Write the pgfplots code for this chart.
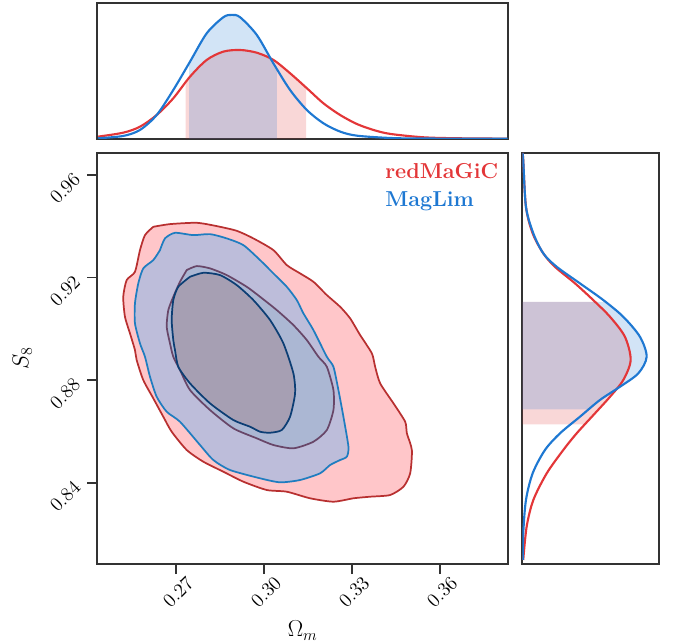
\documentclass[border=0pt]{standalone}
\usepackage{fix-cm}
\usepackage{pgfplots}
\pgfplotsset{compat=1.18}
\definecolor{redL}{RGB}{227,54,56}
\definecolor{blueL}{RGB}{30,120,210}
\definecolor{redE}{RGB}{184,48,48}
\definecolor{blueE}{RGB}{31,125,192}
\definecolor{purE}{RGB}{104,70,104}
\definecolor{navyE}{RGB}{12,62,116}
\definecolor{pinkF}{RGB}{255,198,201}
\definecolor{lavF}{RGB}{189,189,218}
\definecolor{bgF}{RGB}{171,183,211}
\definecolor{mauF}{RGB}{166,159,179}
\definecolor{framec}{RGB}{51,51,51}
\pgfplotsset{
  frame/.style={scale only axis, anchor=south west,
    axis line style={draw=framec, line width=1.3pt}},
}
\begin{document}
\begin{tikzpicture}
\useasboundingbox (0,0) rectangle (516pt,481.5pt);
% ---------------- main 2D panel ----------------
\begin{axis}[frame, at={(73pt,58.5pt)}, width=308pt, height=308.25pt,
  xmin=0.2432, xmax=0.3831, ymin=0.8083, ymax=0.9685,
  xtick={0.27,0.30,0.33,0.36}, xticklabels={0.27,0.30,0.33,0.36},
  ytick={0.84,0.88,0.92,0.96}, yticklabels={0.84,0.88,0.92,0.96},
  tick align=outside, tick pos=left, major tick length=7.5pt,
  every tick/.style={draw=framec, line width=1.3pt},
  tick label style={font=\fontsize{14.6}{17}\selectfont},
  xticklabel style={xshift=1.5pt, rotate=45, anchor=center}, xticklabel shift=13.5pt,
  yticklabel style={yshift=-10.2pt, rotate=45, anchor=center}, yticklabel shift=16.7pt,
  xlabel={$\Omega_m$}, ylabel={$S_8$},
  label style={font=\fontsize{17.28}{20}\selectfont},
  xlabel style={at={(axis description cs:0.5,-0.1776)}, anchor=base},
  ylabel style={at={(axis description cs:-0.168,0.5)}, anchor=base},
]
% redMaGiC 2 sigma
\addplot[fill=pinkF, draw=redE, line width=1.3pt, line join=round, smooth, tension=0.4] coordinates {
(0.26226,0.93973) (0.26795,0.94078) (0.27706,0.94129) (0.28388,0.94000) (0.29069,0.93817)
(0.29635,0.93521) (0.30317,0.93065) (0.30774,0.92481) (0.31227,0.92157) (0.31681,0.91830)
(0.32138,0.91312) (0.32591,0.90856) (0.32932,0.90404) (0.33273,0.89753) (0.33672,0.89040)
(0.33784,0.88518) (0.33955,0.87871) (0.34408,0.87092) (0.34807,0.86375) (0.34865,0.85923)
(0.35035,0.85273) (0.34977,0.84365) (0.34749,0.83843) (0.34295,0.83519) (0.33614,0.83453)
(0.33044,0.83391) (0.32363,0.83258) (0.31568,0.83391) (0.30774,0.83648) (0.30092,0.83714)
(0.29294,0.84038) (0.28613,0.84427) (0.27931,0.84817) (0.27365,0.85273) (0.26853,0.85986)
(0.26567,0.86570) (0.26226,0.87287) (0.25885,0.88000) (0.25660,0.88779) (0.25602,0.89169)
(0.25432,0.89819) (0.25261,0.90466) (0.25203,0.91245) (0.25319,0.91896) (0.25602,0.92220)
(0.25773,0.93065) (0.25943,0.93649) (0.26226,0.93973)} -- cycle;
% MagLim 2 sigma
\addplot[fill=lavF, draw=blueE, line width=1.3pt, line join=round, smooth, tension=0.4] coordinates {
(0.26455,0.93065) (0.26625,0.93521) (0.26966,0.93739) (0.27590,0.93649) (0.28159,0.93688)
(0.28728,0.93521) (0.29294,0.93260) (0.29864,0.92675) (0.30317,0.92157) (0.30774,0.91635)
(0.31115,0.91117) (0.31340,0.90599) (0.31681,0.89948) (0.32138,0.88908) (0.32363,0.88518)
(0.32533,0.87610) (0.32703,0.86570) (0.32874,0.85401) (0.32819,0.85012) (0.32591,0.84883)
(0.32250,0.84688) (0.31909,0.84365) (0.31227,0.84104) (0.30545,0.84014) (0.29864,0.84170)
(0.28841,0.84493) (0.28272,0.84883) (0.27818,0.85468) (0.27136,0.86375) (0.26683,0.86765)
(0.26342,0.87349) (0.26114,0.88129) (0.25943,0.88908) (0.25773,0.89430) (0.25602,0.90209)
(0.25602,0.90988) (0.25715,0.91768) (0.25885,0.92352) (0.26226,0.92675) (0.26455,0.93065)} -- cycle;
% redMaGiC 1 sigma
\addplot[fill=bgF, draw=purE, line width=1.3pt, line join=round, smooth, tension=0.4] coordinates {
(0.27365,0.92286) (0.27706,0.92442) (0.28159,0.92352) (0.28728,0.92091) (0.29410,0.91635)
(0.29864,0.91245) (0.30433,0.90727) (0.30999,0.90143) (0.31456,0.89558) (0.31851,0.88908)
(0.32138,0.88518) (0.32363,0.87610) (0.32363,0.86831) (0.32138,0.86052) (0.31681,0.85596)
(0.30999,0.85339) (0.30317,0.85468) (0.29751,0.85729) (0.28953,0.86118) (0.28159,0.86831)
(0.27477,0.87610) (0.27136,0.88390) (0.26908,0.88908) (0.26795,0.89430) (0.26683,0.90077)
(0.26738,0.90727) (0.26908,0.91245) (0.27136,0.91830) (0.27365,0.92286)} -- cycle;
% MagLim 1 sigma
\addplot[fill=mauF, draw=navyE, line width=1.3pt, line join=round, smooth, tension=0.4] coordinates {
(0.27477,0.92025) (0.27931,0.92181) (0.28500,0.92091) (0.29069,0.91701) (0.29635,0.91117)
(0.30205,0.90338) (0.30658,0.89430) (0.30999,0.88261) (0.31057,0.87482) (0.30886,0.86570)
(0.30603,0.86052) (0.30205,0.85947) (0.29864,0.85986) (0.29523,0.86181) (0.28953,0.86442)
(0.28159,0.87092) (0.27477,0.87871) (0.27078,0.88518) (0.26966,0.89169) (0.26908,0.89558)
(0.26853,0.90338) (0.26908,0.91117) (0.27078,0.91635) (0.27477,0.92025)} -- cycle;
\node[anchor=base west, inner sep=0pt, text=redL, font=\fontsize{16.2}{19}\selectfont\bfseries]
  at (axis description cs:0.7005,0.937) {redMaGiC};
\node[anchor=base west, inner sep=0pt, text=blueL, font=\fontsize{16.2}{19}\selectfont\bfseries]
  at (axis description cs:0.7005,0.869) {MagLim};
\end{axis}
% ---------------- top marginal (Omega_m) ----------------
\begin{axis}[frame, at={(73pt,377.5pt)}, width=308pt, height=102pt,
  xmin=0.2432, xmax=0.3831, ymin=0, ymax=1, xtick=\empty, ytick=\empty]
% 68% bands
\addplot[fill=redL, fill opacity=0.2, draw=none] coordinates {
(0.27331,0) (0.27331,0.415) (0.27477,0.456) (0.28047,0.579) (0.28613,0.640) (0.29182,0.652)
(0.29751,0.632) (0.30317,0.579) (0.30886,0.481) (0.31432,0.376) (0.31432,0)} -- cycle;
\addplot[fill=blueL, fill opacity=0.2, draw=none] coordinates {
(0.27443,0) (0.27443,0.554) (0.27477,0.566) (0.28047,0.775) (0.28613,0.893) (0.28899,0.910)
(0.29182,0.893) (0.29751,0.763) (0.30317,0.554) (0.30433,0.514) (0.30433,0)} -- cycle;
\addplot[draw=redL, line width=1.6pt, smooth] coordinates {
(0.24351,0.015) (0.25203,0.044) (0.25773,0.088) (0.26342,0.174) (0.26908,0.297)
(0.27477,0.456) (0.28047,0.579) (0.28613,0.640) (0.29182,0.652) (0.29751,0.632)
(0.30317,0.579) (0.30886,0.481) (0.31456,0.371) (0.32022,0.260) (0.32591,0.174)
(0.33160,0.108) (0.33727,0.064) (0.34295,0.035) (0.35431,0.010) (0.36569,0.003) (0.38273,0.0)};
\addplot[draw=blueL, line width=1.6pt, smooth] coordinates {
(0.24351,0.003) (0.25203,0.020) (0.25773,0.064) (0.26342,0.174) (0.26908,0.358)
(0.27477,0.566) (0.28047,0.775) (0.28613,0.893) (0.28899,0.910) (0.29182,0.893)
(0.29751,0.763) (0.30317,0.554) (0.30886,0.358) (0.31456,0.211) (0.32022,0.113)
(0.32591,0.052) (0.33160,0.022) (0.34295,0.005) (0.35420,0.001) (0.38300,0.0)};
\end{axis}
% ---------------- right marginal (S_8) ----------------
\begin{axis}[frame, at={(391.7pt,58.5pt)}, width=102.5pt, height=308.25pt,
  xmin=0, xmax=1, ymin=0.8083, ymax=0.9685, xtick=\empty, ytick=\empty]
\addplot[fill=redL, fill opacity=0.2, draw=none] coordinates {
(0,0.91051) (0.531,0.91051) (0.642,0.90466) (0.751,0.89687) (0.793,0.88779) (0.739,0.88000)
(0.642,0.87349) (0.532,0.86703) (0.458,0.86274) (0,0.86274)} -- cycle;
\addplot[fill=blueL, fill opacity=0.2, draw=none] coordinates {
(0,0.91051) (0.608,0.91051) (0.739,0.90466) (0.861,0.89687) (0.910,0.88908) (0.849,0.88261)
(0.715,0.87739) (0.568,0.87221) (0.487,0.86858) (0,0.86858)} -- cycle;
\addplot[draw=redL, line width=1.6pt, smooth] coordinates {
(0.0015,0.9685) (0.007,0.96571) (0.027,0.94752) (0.076,0.93716) (0.154,0.92936)
(0.239,0.92414) (0.386,0.91768) (0.519,0.91117) (0.642,0.90466) (0.751,0.89687)
(0.793,0.88779) (0.739,0.88000) (0.642,0.87349) (0.532,0.86703) (0.398,0.85923)
(0.300,0.85273) (0.179,0.84365) (0.081,0.83325) (0.032,0.82287) (0.007,0.80987)};
\addplot[draw=blueL, line width=1.6pt, smooth] coordinates {
(0.001,0.9685) (0.007,0.96571) (0.027,0.94752) (0.081,0.93716) (0.154,0.92936)
(0.252,0.92414) (0.422,0.91768) (0.593,0.91117) (0.739,0.90466) (0.861,0.89687)
(0.910,0.88908) (0.849,0.88261) (0.715,0.87739) (0.568,0.87221) (0.422,0.86570)
(0.276,0.85923) (0.166,0.85273) (0.076,0.84365) (0.027,0.83325) (0.007,0.82027) (0.003,0.80987)};
\end{axis}
\end{tikzpicture}
\end{document}
